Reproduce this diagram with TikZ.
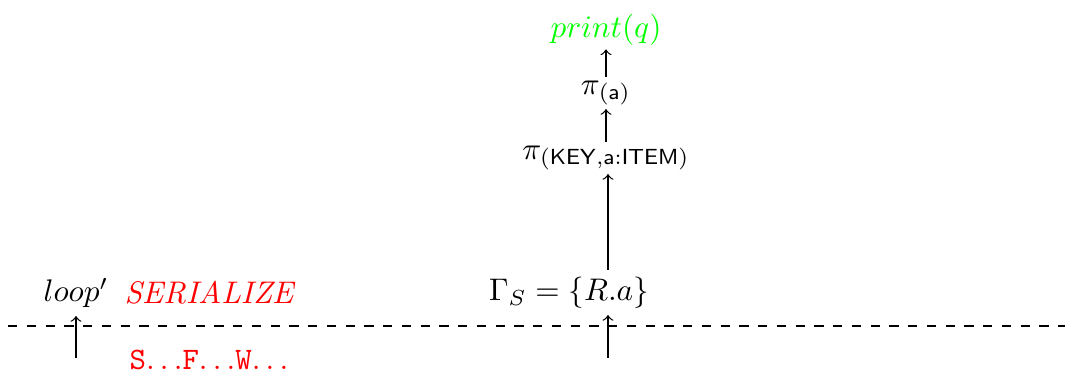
\documentclass[tikz,border=0pt]{standalone}
\usetikzlibrary{arrows}
\begin{document}
\begin{tikzpicture}[x=0.32pt,y=-0.32pt,
  lbl/.style={inner sep=1pt},
  conn/.style={->,>=to,line width=0.4pt}]
\useasboundingbox (0,0) rectangle (1065,377);
\node[lbl,text=green] (print) at (606,30) {$print(q)$};
\node[lbl] (pia) at (606,93) {$\pi_{\mathsf{(a)}}$};
\node[lbl] (pik) at (606,158) {$\pi_{\mathsf{(KEY,a{:}ITEM)}}$};
\node[lbl] (gam) at (569,293) {$\Gamma_S = \{R.a\}$};
\node[lbl] (loop) at (76,293) {$loop'$};
\node[lbl,text=red] (ser) at (210,293) {\textit{SERIALIZE}};
\node[lbl,text=red] (sfw) at (209,360) {\texttt{S}$\ldots$\texttt{F}$\ldots$\texttt{W}$\ldots$};
\coordinate (gb) at (608,358);
\coordinate (gt) at (608,315);
\coordinate (gtop) at (608,270);
\coordinate (lb) at (76,358);
\coordinate (lt) at (76,316);
\coordinate (dl) at (8,326);
\coordinate (dr) at (1065,326);
\draw[dashed] (dl) -- (dr);
\draw[conn] (gb) -- (gt);
\draw[conn] (lb) -- (lt);
\draw[conn] (gtop) -- (gtop |- pik.south);
\draw[conn] (pik.north) -- (pia.south);
\draw[conn] (pia.north) -- (print.south);
\end{tikzpicture}
\end{document}
